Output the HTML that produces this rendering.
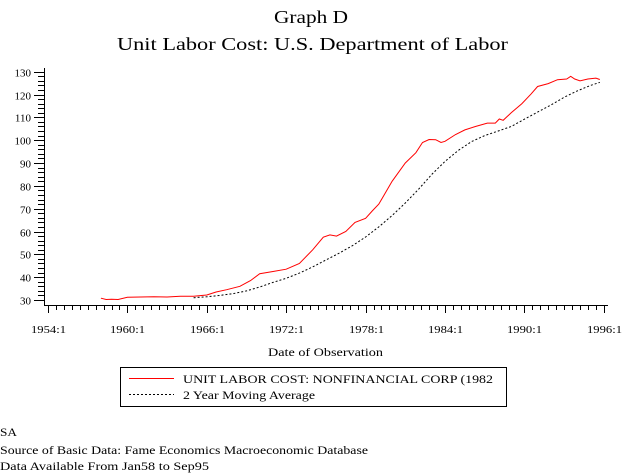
<!DOCTYPE html>
<html><head><meta charset="utf-8"><style>
html,body{margin:0;padding:0;background:#fff;width:627px;height:475px;overflow:hidden}
svg{display:block;font-family:"Liberation Serif",serif}
</style></head><body>
<svg id="s" width="627" height="475" xmlns="http://www.w3.org/2000/svg">
<text x="274" y="23" font-size="18" textLength="74" lengthAdjust="spacingAndGlyphs">Graph D</text>
<text x="117" y="50" font-size="18" textLength="391" lengthAdjust="spacingAndGlyphs">Unit Labor Cost: U.S. Department of Labor</text>
<g id="ax" stroke="#000" stroke-width="1" fill="none"></g>
<g id="lab" font-size="11" fill="#000"></g>
<text x="268" y="356" font-size="12" textLength="115" lengthAdjust="spacingAndGlyphs">Date of Observation</text>
<rect x="120.5" y="367.5" width="386" height="39" fill="none" stroke="#000"/>
<line x1="129" y1="378.5" x2="174" y2="378.5" stroke="#f00"/>
<line x1="129" y1="394.5" x2="174" y2="394.5" stroke="#000" stroke-dasharray="2,2"/>
<text x="183" y="383" font-size="12" textLength="310" lengthAdjust="spacingAndGlyphs">UNIT LABOR COST: NONFINANCIAL CORP (1982</text>
<text x="183" y="399" font-size="12" textLength="132" lengthAdjust="spacingAndGlyphs">2 Year Moving Average</text>
<text x="0" y="436" font-size="12" textLength="17" lengthAdjust="spacingAndGlyphs">SA</text>
<text x="0" y="454" font-size="12" textLength="368" lengthAdjust="spacingAndGlyphs">Source of Basic Data: Fame Economics Macroeconomic Database</text>
<text x="0" y="470" font-size="12" textLength="209" lengthAdjust="spacingAndGlyphs">Data Available From Jan58 to Sep95</text>
<polyline id="red" fill="none" stroke="#f00" stroke-width="1"/>
<polyline id="blk" fill="none" stroke="#000" stroke-width="1" stroke-dasharray="2,2"/>
</svg>
<script>
var NS="http://www.w3.org/2000/svg";
function X(y){return 48+(y-1954)*79.4/6}
function Y(v){return 300-(v-30)*2.283}
var ax=document.getElementById("ax"),lab=document.getElementById("lab");
function ln(a,b,c,d){var l=document.createElementNS(NS,"line");l.setAttribute("x1",a);l.setAttribute("y1",b);l.setAttribute("x2",c);l.setAttribute("y2",d);ax.appendChild(l);}
function tx(x,y,t,anc,len){var e=document.createElementNS(NS,"text");e.setAttribute("x",x);e.setAttribute("y",y);e.setAttribute("text-anchor",anc);if(len){e.setAttribute("textLength",len);e.setAttribute("lengthAdjust","spacingAndGlyphs");}e.textContent=t;lab.appendChild(e);}
ln(44.5,68,44.5,305.5);ln(44,305.5,608,305.5);
for(var v=30;v<=130;v+=2){var y=Math.round(Y(v))+0.5;var major=v%10==0;ln(major?34:38,y,44.5,y);if(major)tx(31,y+4,v,"end");}
for(var i=0;i<=70;i++){var x=Math.round(48+i*79.4/10)+0.5;var major=i%10==0;ln(x,305.5,x,major?313:310);if(major)tx(x-17.5,333,(1954+i*0.6)+":1","start",35);}
var red=[[1958,30.8],[1958.4,30.2],[1958.8,30.3],[1959.3,30.2],[1960,31.2],[1961,31.3],[1962,31.4],[1963,31.3],[1964,31.6],[1965,31.6],[1966,32.2],[1966.7,33.5],[1967.5,34.5],[1968.5,36],[1969.3,38.5],[1970,41.5],[1971,42.5],[1972,43.5],[1973,46],[1974,52],[1974.8,57.5],[1975.3,58.5],[1975.8,58],[1976.5,60],[1977.2,64],[1978,65.8],[1978.5,69],[1979,72],[1980,82],[1981,90],[1981.8,94.5],[1982.3,99],[1982.8,100.3],[1983.3,100.2],[1983.7,99],[1984,99.5],[1984.8,102.5],[1985.5,104.5],[1986.3,106],[1987.2,107.5],[1987.8,107.5],[1988.1,109.3],[1988.4,108.7],[1989,112],[1989.8,116],[1990.5,120.2],[1991,123.5],[1991.8,124.8],[1992.5,126.5],[1993.2,126.8],[1993.5,128],[1993.8,126.8],[1994.2,126],[1994.8,126.8],[1995.4,127.2],[1995.7,126.6]];
var blk=[[1965,31],[1966,31.4],[1967,32],[1968,32.8],[1969,34],[1970,35.7],[1971,37.7],[1972,39.5],[1973,41.8],[1974,44.5],[1975,47.5],[1976,50.5],[1977,53.8],[1978,57.6],[1979,62],[1980,67],[1981,72.5],[1982,78.5],[1983,85],[1984,90.7],[1985,95.5],[1986,99.4],[1987,102],[1988,104],[1989,106],[1990,109.2],[1991,112.3],[1992,115.4],[1993,118.8],[1994,121.6],[1995,124],[1995.7,125.3]];
function pts(a){return a.map(function(p){return X(p[0]).toFixed(1)+","+Y(p[1]).toFixed(1)}).join(" ")}
document.getElementById("red").setAttribute("points",pts(red));
document.getElementById("blk").setAttribute("points",pts(blk));
</script>
</body></html>
